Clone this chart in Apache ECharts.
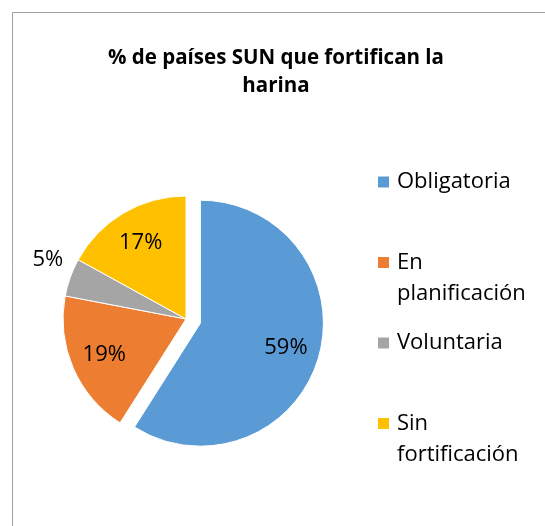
<!DOCTYPE html>
<html>
<head>
<meta charset="utf-8">
<style>
  html, body { margin: 0; padding: 0; background: #fff; }
  #chart { width: 545px; height: 526px; }
</style>
<script src="https://cdn.jsdelivr.net/npm/echarts@6/dist/echarts.min.js"></script>
</head>
<body>
<div id="chart"></div>
<script>
// datos
const categories = ["Obligatoria", "En planificación", "Voluntaria", "Sin fortificación"];
const values = [59, 19, 5, 17];
const colors = ["#5B9BD5", "#ED7D31", "#A5A5A5", "#FFC000"];
const titleText = "% de países SUN que fortifican la\nharina";

const font = "'Open Sans', 'Noto Sans', sans-serif";
const center = [186, 319];
const radius = 123;

const chart = echarts.init(document.getElementById("chart"), null, { renderer: "canvas" });

// sectores visibles
const sliceData = categories.map((name, i) => ({
  name: name,
  value: values[i],
  selected: i === 0,
  itemStyle: { color: colors[i] },
}));

// capa transparente solo para colocar las etiquetas más afuera
const labelData = categories.map((name, i) => {
  const item = {
    name: name,
    value: values[i],
    selected: i === 0,
  };
  if (i === 2) {
    // el 5% va fuera, sin línea guía
    item.label = { position: "outside" };
    item.labelLine = { show: false, length: 51, length2: -46 };
  }
  return item;
});

chart.setOption({
  animation: false,
  title: {
    text: titleText,
    left: 276,
    top: 44,
    padding: 0,
    textAlign: "center",
    textStyle: {
      fontFamily: font,
      fontWeight: "bold",
      fontSize: 20.5,
      lineHeight: 28,
      color: "#000",
    },
  },
  legend: {
    orient: "vertical",
    left: 376,
    top: 166.5,
    padding: 0,
    itemWidth: 13,
    itemHeight: 13,
    itemGap: 18.5,
    icon: "rect",
    data: categories,
    // las entradas de dos palabras se parten, con la 1a línea junto al cuadro
    formatter: (name) => (name.indexOf(" ") > 0 ? "\n" + name.replace(" ", "\n") : name),
    textStyle: {
      fontFamily: font,
      fontSize: 22,
      lineHeight: 31,
      color: "#000",
      padding: [0, 0, 0, 2],
    },
  },
  graphic: [
    {
      type: "rect",
      silent: true,
      shape: { x: 12.5, y: 12.5, width: 600, height: 600 },
      style: { fill: "none", stroke: "#a0a0a0", lineWidth: 1 },
    },
  ],
  series: [
    {
      name: "sectores",
      type: "pie",
      center: center,
      radius: radius,
      startAngle: 90,
      clockwise: true,
      selectedMode: "single",
      selectedOffset: 15,
      silent: true,
      label: { show: false },
      labelLine: { show: false },
      itemStyle: { borderColor: "#fff", borderWidth: 1 },
      data: sliceData,
    },
    {
      name: "etiquetas",
      type: "pie",
      center: center,
      radius: [radius * 0.4, radius],
      startAngle: 90,
      clockwise: true,
      selectedMode: "single",
      selectedOffset: 15,
      silent: true,
      avoidLabelOverlap: false,
      itemStyle: { color: "rgba(0,0,0,0)" },
      label: {
        show: true,
        position: "inside",
        formatter: "{d}%",
        fontFamily: font,
        fontSize: 22,
        color: "#000",
      },
      labelLine: { show: false },
      data: labelData,
    },
  ],
});
</script>
</body>
</html>
